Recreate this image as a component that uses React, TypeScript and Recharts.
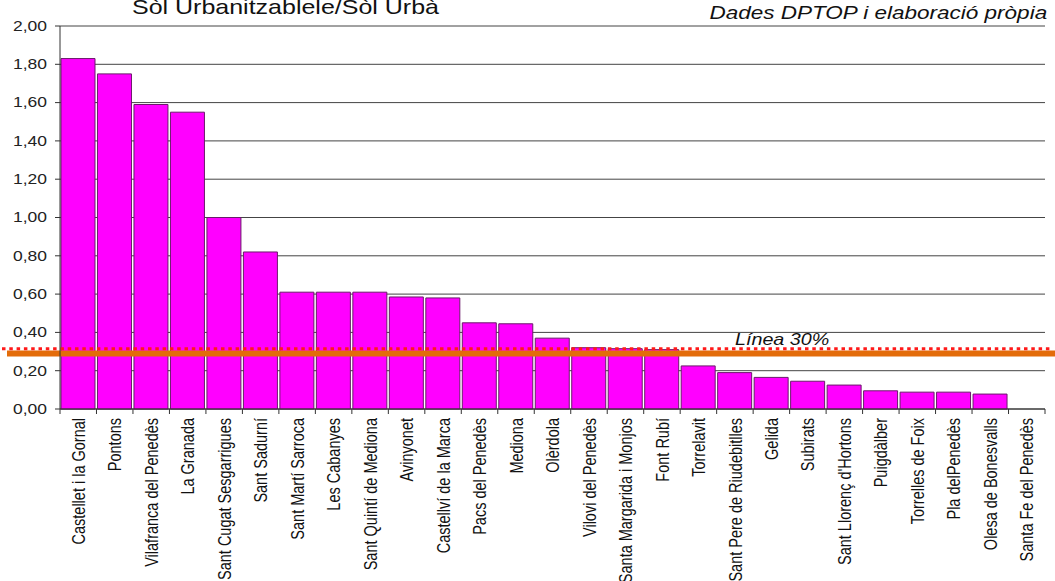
import React from "react";
import {
  BarChart,
  Bar,
  XAxis,
  YAxis,
  CartesianGrid,
  ReferenceLine,
  Label,
} from "recharts";

const municipalities = [
  "Castellet i la Gornal",
  "Pontons",
  "Vilafranca del Penedès",
  "La Granada",
  "Sant Cugat Sesgarrigues",
  "Sant Sadurní",
  "Sant Martí Sarroca",
  "Les Cabanyes",
  "Sant Quintí de Mediona",
  "Avinyonet",
  "Castellví de la Marca",
  "Pacs del Penedès",
  "Mediona",
  "Olèrdola",
  "Vilovi del Penedès",
  "Santa Margarida i Monjos",
  "Font Rubí",
  "Torrelavit",
  "Sant Pere de Riudebitlles",
  "Gelida",
  "Subirats",
  "Sant Llorenç d'Hortons",
  "Puigdàlber",
  "Torrelles de Foix",
  "Pla delPenedès",
  "Olesa de Bonesvalls",
  "Santa Fe del Penedès",
];

const ratio = [
  1.83, 1.75, 1.59, 1.55, 1.0, 0.82, 0.61, 0.61, 0.61, 0.585, 0.58, 0.45,
  0.445, 0.37, 0.32, 0.315, 0.31, 0.225, 0.19, 0.165, 0.145, 0.125, 0.095,
  0.088, 0.088, 0.078, 0,
];

const yTicks = [0, 0.2, 0.4, 0.6, 0.8, 1.0, 1.2, 1.4, 1.6, 1.8, 2.0];
const line30 = 0.29;
const lineDotted = 0.315;

const data = municipalities.map((name, i) => ({ name, value: ratio[i] }));

const W = 1055;
const H = 581;
const BAND = 985 / municipalities.length;
const FONT = "'Liberation Sans', Arial, sans-serif";
const STRETCH = 1.25; // the reference is widened horizontally

const fmt = (v: number) => v.toFixed(2).replace(".", ",");

const XTick = (props: any) => {
  const { x, y, payload, index } = props;
  const ty = y + 9;
  return (
    <g>
      {index === 0 && (
        <line x1={x - BAND / 2} x2={x - BAND / 2} y1={y} y2={y + 5} stroke="#333" />
      )}
      <line x1={x + BAND / 2} x2={x + BAND / 2} y1={y} y2={y + 5} stroke="#333" />
      <text
        transform={`translate(${x}, ${ty}) scale(${STRETCH}, 1) rotate(-90)`}
        textAnchor="end"
        dominantBaseline="central"
        fontSize={14.5}
        fontFamily={FONT}
        fill="#111"
      >
        {payload.value}
      </text>
    </g>
  );
};

const YTick = (props: any) => {
  const { x, y, payload } = props;
  return (
    <text
      transform={`translate(${x}, ${y}) scale(${STRETCH}, 1)`}
      textAnchor="end"
      dominantBaseline="central"
      fontSize={14}
      fontFamily={FONT}
      fill="#222"
    >
      {fmt(payload.value)}
    </text>
  );
};

const wideLine = (ext: [number, number], stroke: string, width: number, dash?: string) =>
  (p: any) => (
    <line
      x1={p.x1 - ext[0]}
      x2={p.x2 + ext[1]}
      y1={p.y1}
      y2={p.y2}
      stroke={stroke}
      strokeWidth={width}
      strokeDasharray={dash}
    />
  );

const lineLabel = (p: any) => {
  const vb = p.viewBox || {};
  return (
    <text
      transform={`translate(${vb.x + 675}, ${vb.y - 4}) scale(1.16, 1)`}
      fontSize={17}
      fontStyle="italic"
      fontFamily={FONT}
      fill="#111"
    >
      Línea 30%
    </text>
  );
};

export default function App() {
  return (
    <div style={{ position: "absolute", left: 0, top: 0, width: W, height: H, background: "#fff", overflow: "hidden" }}>
      <div
        style={{
          position: "absolute",
          left: 132,
          top: -5,
          fontFamily: FONT,
          fontSize: 21,
          color: "#111",
          whiteSpace: "nowrap",
          transform: "scaleX(1.19)",
          transformOrigin: "left top",
        }}
      >
        Sòl Urbanitzablele/Sòl Urbà
      </div>
      <div
        style={{
          position: "absolute",
          right: 8,
          top: 3,
          fontFamily: FONT,
          fontSize: 18,
          fontStyle: "italic",
          color: "#111",
          whiteSpace: "nowrap",
          transform: `scaleX(${STRETCH})`,
          transformOrigin: "right top",
        }}
      >
        Dades DPTOP i elaboració pròpia
      </div>
      <BarChart
        width={W}
        height={H}
        data={data}
        margin={{ top: 26, right: 10, left: 0, bottom: 0 }}
        barCategoryGap={1}
      >
        <CartesianGrid vertical={false} stroke="#444" />
        <YAxis
          type="number"
          domain={[0, 2]}
          ticks={yTicks}
          width={60}
          tickSize={5}
          tickMargin={8}
          axisLine={{ stroke: "#333" }}
          tickLine={{ stroke: "#333" }}
          tick={<YTick />}
        />
        <XAxis
          dataKey="name"
          interval={0}
          height={172}
          tickSize={0}
          tickMargin={0}
          tickLine={false}
          axisLine={{ stroke: "#333" }}
          tick={<XTick />}
        />
        <Bar
          dataKey="value"
          fill="#ff00ff"
          stroke="#6b1a6b"
          strokeWidth={1}
          isAnimationActive={false}
        />
        <ReferenceLine
          y={line30}
          ifOverflow="visible"
          shape={wideLine([53, 10], "#e36c0a", 6)}
        />
        <ReferenceLine
          y={lineDotted}
          ifOverflow="visible"
          shape={wideLine([58, 7], "#ff1a1a", 3, "3.5 3.8")}
        >
          <Label content={lineLabel} />
        </ReferenceLine>
      </BarChart>
    </div>
  );
}
